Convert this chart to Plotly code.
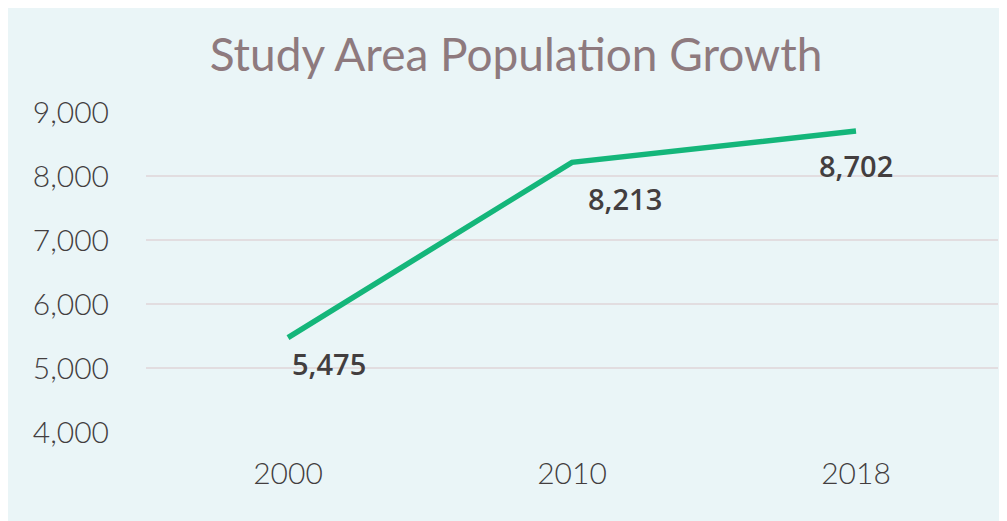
import plotly.graph_objects as go

years = ["2000", "2010", "2018"]
population = [5475, 8213, 8702]
label_text = ["5,475", "8,213", "8,702"]
label_xshift = [41, 53, 0]
label_yshift = [-26, -36, -34]
y_ticks = [4000, 5000, 6000, 7000, 8000, 9000]
y_tick_text = ["4,000", "5,000", "6,000", "7,000", "8,000", "9,000"]

# page has an 8px body margin; figure drawn at (8, 8)
W, H = 999, 513
L, R, T, B = 138, 9, 104, 89

bg = "#EAF5F7"

fig = go.Figure()
fig.add_trace(go.Scatter(
    x=years, y=population, mode="lines",
    line=dict(color="#14B67A", width=5.5),
    hoverinfo="skip", showlegend=False,
))

for i, (y, t, dx, dy) in enumerate(zip(population, label_text, label_xshift, label_yshift)):
    fig.add_annotation(x=i, y=y, text=t, showarrow=False, xshift=dx, yshift=dy,
                       font=dict(family="Open Sans", size=29, color="#433E3F", weight=600))

fig.update_layout(
    width=W, height=H,
    margin=dict(l=L, r=R, t=T, b=B, autoexpand=False),
    paper_bgcolor=bg, plot_bgcolor=bg,
    title=dict(text="Study Area Population Growth", x=508 / W, xanchor="center",
               y=1 - 47 / H, yanchor="middle", xref="container", yref="container",
               font=dict(family="Lato", size=46, color="#8E7A7E")),
    xaxis=dict(type="category", range=[-0.5, 2.5], showgrid=False, showline=False,
               zeroline=False, ticks="", ticklabelstandoff=21,
               tickfont=dict(family="Lato", size=30, color="#433E3F", weight=300)),
    yaxis=dict(range=[4000, 9000], tickvals=y_ticks, ticktext=y_tick_text,
               showgrid=True, gridcolor="#E2DDE0", gridwidth=2, zeroline=False,
               showline=False, ticks="", ticklabelstandoff=36,
               tickfont=dict(family="Lato", size=30, color="#433E3F", weight=300)),
)

fig.write_html("out.html")
